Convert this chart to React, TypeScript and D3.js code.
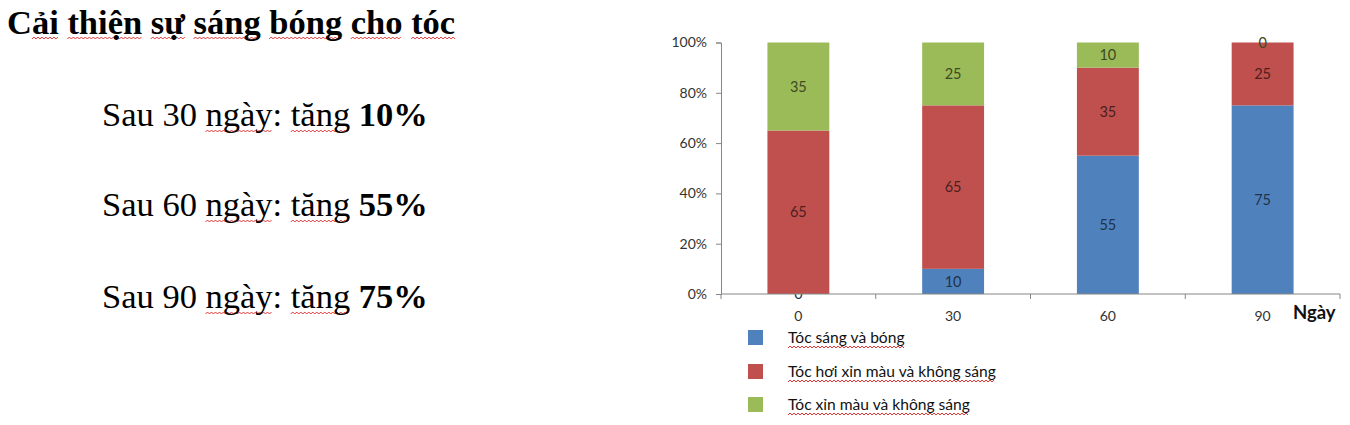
import React, { useEffect, useRef } from 'react';
import * as d3 from 'd3';

// chart data
const categories = ['0', '30', '60', '90'];
const seriesNames = [
  'Tóc sáng và bóng',
  'Tóc hơi xỉn màu và không sáng',
  'Tóc xỉn màu và không sáng',
];
const shinyValues = [0, 10, 55, 75];
const slightlyDullValues = [65, 65, 35, 25];
const dullValues = [35, 25, 10, 0];
const yTicks = [0, 20, 40, 60, 80, 100];
const seriesColors = ['#4F81BD', '#C0504D', '#9BBB59'];

// text block on the left
const titleText = 'Cải thiện sự sáng bóng cho tóc';
const titleMisspelled = ['ải', 'thiện', 'sự', 'sáng', 'bóng', 'cho', 'tóc'];
const noteDays = ['30', '60', '90'];
const noteGains = ['10%', '55%', '75%'];
const noteMisspelled = ['ngày', 'tăng'];

const W = 1350;
const H = 425;

const serif = "'Liberation Serif', 'Times New Roman', serif";
const sans = "Lato, 'Open Sans', sans-serif";

// spell-check style wavy line under a piece of a text element
function squiggle(
  layer: d3.Selection<SVGGElement, unknown, null, undefined>,
  node: SVGTextElement,
  full: string,
  word: string,
  dy: number
) {
  const start = full.indexOf(word);
  if (start < 0) return;
  const end = start + word.length - 1;
  const p0 = node.getStartPositionOfChar(start);
  const p1 = node.getEndPositionOfChar(end);
  const pts: [number, number][] = [];
  let k = 0;
  for (let x = p0.x; x <= p1.x; x += 2, k++) {
    pts.push([x, p0.y + dy + (k % 2 === 0 ? 1 : -1)]);
  }
  layer.append('path')
    .attr('d', d3.line()(pts) || '')
    .attr('fill', 'none')
    .attr('stroke', '#E02020')
    .attr('stroke-width', 0.9);
}

export default function App() {
  const svgRef = useRef<SVGSVGElement>(null);

  useEffect(() => {
    if (!svgRef.current) return;
    const svg = d3.select(svgRef.current);
    svg.selectAll('*').remove();

    const waves = svg.append('g');

    // Left text
    const title = svg.append('text')
      .attr('x', 7)
      .attr('y', 34)
      .attr('font-family', serif)
      .attr('font-size', 34.5)
      .attr('font-weight', 'bold')
      .attr('fill', '#000')
      .text(titleText);
    titleMisspelled.forEach(w => squiggle(waves, title.node()!, titleText, w, 4));

    const lineY = [126, 216, 308];
    noteDays.forEach((day, i) => {
      const prefix = `Sau ${day} ngày: tăng `;
      const t = svg.append('text')
        .attr('x', 102)
        .attr('y', lineY[i])
        .attr('font-family', serif)
        .attr('font-size', 34.5)
        .attr('fill', '#000');
      t.append('tspan').text(prefix);
      t.append('tspan').attr('font-weight', 'bold').text(noteGains[i]);
      noteMisspelled.forEach(w => squiggle(waves, t.node()!, prefix + noteGains[i], w, 5));
    });

    // Chart
    const left = 721;
    const right = 1340;
    const top = 42.5;
    const bottom = 294;

    const x = d3.scaleBand<string>()
      .domain(categories)
      .range([left, right])
      .paddingInner(0.6)
      .paddingOuter(0.3);

    const y = d3.scaleLinear().domain([0, 100]).range([bottom, top]);

    const rows = categories.map((c, i) => ({
      cat: c,
      s0: shinyValues[i],
      s1: slightlyDullValues[i],
      s2: dullValues[i],
    }));
    const keys = ['s0', 's1', 's2'];
    const stacked = d3.stack<any>().keys(keys)(rows);

    const g = svg.append('g');

    stacked.forEach((layer, si) => {
      g.append('g')
        .selectAll('rect')
        .data(layer)
        .enter()
        .append('rect')
        .attr('x', d => x(d.data.cat)!)
        .attr('width', x.bandwidth())
        .attr('y', d => y(d[1]))
        .attr('height', d => y(d[0]) - y(d[1]))
        .attr('fill', seriesColors[si]);

      g.append('g')
        .selectAll('text')
        .data(layer)
        .enter()
        .append('text')
        .attr('x', d => x(d.data.cat)! + x.bandwidth() / 2)
        .attr('y', d => y((d[0] + d[1]) / 2))
        .attr('dy', '0.35em')
        .attr('text-anchor', 'middle')
        .attr('font-family', sans)
        .attr('font-size', 14.5)
        .attr('fill', d3.color(seriesColors[si])!.darker(2.6).formatHex())
        .text(d => String(d.data[keys[si]]));
    });

    const axisColor = '#868686';

    // Y axis
    const yAxis = svg.append('g')
      .attr('transform', `translate(${left},0)`)
      .call(d3.axisLeft(y).tickValues(yTicks).tickSize(5).tickPadding(9).tickFormat(d => `${d}%`));
    yAxis.select('.domain').attr('stroke', axisColor);
    yAxis.selectAll('line').attr('stroke', axisColor);
    yAxis.selectAll('text')
      .attr('font-family', sans)
      .attr('font-size', 14)
      .attr('fill', '#333');

    // X axis: ticks on category boundaries
    const step = x.step();
    const boundaries = d3.range(categories.length + 1).map(i => left + i * step);
    svg.append('line')
      .attr('x1', left).attr('x2', right)
      .attr('y1', bottom).attr('y2', bottom)
      .attr('stroke', axisColor);
    svg.append('g')
      .selectAll('line')
      .data(boundaries)
      .enter()
      .append('line')
      .attr('x1', d => d).attr('x2', d => d)
      .attr('y1', bottom).attr('y2', bottom + 5)
      .attr('stroke', axisColor);
    svg.append('g')
      .selectAll('text')
      .data(categories)
      .enter()
      .append('text')
      .attr('x', d => x(d)! + x.bandwidth() / 2)
      .attr('y', bottom + 27)
      .attr('text-anchor', 'middle')
      .attr('font-family', sans)
      .attr('font-size', 14)
      .attr('fill', '#333')
      .text(d => d);

    svg.append('text')
      .attr('x', 1293)
      .attr('y', bottom + 25)
      .attr('font-family', sans)
      .attr('font-size', 18.5)
      .attr('font-weight', 'bold')
      .attr('fill', '#111')
      .text('Ngày');

    // Legend
    const legendY = [330, 364, 397];
    seriesNames.forEach((name, i) => {
      svg.append('rect')
        .attr('x', 748)
        .attr('y', legendY[i])
        .attr('width', 15)
        .attr('height', 15)
        .attr('fill', seriesColors[i]);
      const t = svg.append('text')
        .attr('x', 788)
        .attr('y', legendY[i] + 13)
        .attr('font-family', sans)
        .attr('font-size', 15.6)
        .attr('fill', '#111')
        .text(name);
      squiggle(waves, t.node()!, name, name, 4);
    });
  }, []);

  return (
    <svg
      ref={svgRef}
      width={W}
      height={H}
      style={{ position: 'absolute', left: 0, top: 0, background: '#fff' }}
    />
  );
}
